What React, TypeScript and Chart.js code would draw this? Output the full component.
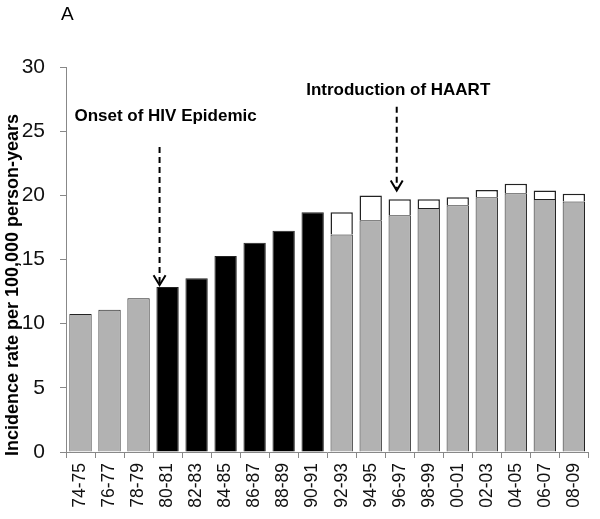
import React, { useEffect, useRef } from "react";
import { Chart, registerables } from "chart.js";

Chart.register(...registerables);

const categories = ["74-75","76-77","78-79","80-81","82-83","84-85","86-87","88-89","90-91","92-93","94-95","96-97","98-99","00-01","02-03","04-05","06-07","08-09"];
const baseValues = [10.75,11.09,11.98,12.86,13.54,15.28,16.31,17.25,18.68,16.94,18.05,18.44,19.02,19.22,19.85,20.16,19.72,19.51];
const totalValues = [null,null,null,null,null,null,null,null,null,18.68,19.98,19.69,19.69,19.85,20.42,20.91,20.37,20.13];
const hivPeriod = ["80-81","82-83","84-85","86-87","88-89","90-91"];
const yTicks = [0,5,10,15,20,25,30];
const yTitle = "Incidence rate per 100,000 person-years";
const annotations = [
  { label: "Onset of HIV Epidemic", category: "80-81", textY: 26.12, fromY: 23.77, toY: 13.0 },
  { label: "Introduction of HAART", category: "96-97", textY: 28.2, fromY: 26.9, toY: 20.37 },
];

const FONT = "'Liberation Sans', Arial, sans-serif";

export default function App() {
  const ref = useRef<HTMLCanvasElement>(null);
  useEffect(() => {
    const topValues = totalValues.map((t, i) => (t == null ? null : +(t - baseValues[i]).toFixed(2)));
    const baseColors = categories.map((c) => (hivPeriod.includes(c) ? "#000000" : "#b2b2b2"));
    const arrowDx = [-8, -3];
    const textDx = [-2, -1.5];
    const annotPlugin = {
      id: "annot",
      afterDraw(chart: any) {
        const ctx = chart.ctx;
        const xs = chart.scales.x;
        const ys = chart.scales.y;
        ctx.save();
        ctx.fillStyle = "#000";
        ctx.font = `19px ${FONT}`;
        ctx.textAlign = "left";
        ctx.textBaseline = "middle";
        ctx.fillText("A", 61, 15);
        // y title
        ctx.save();
        ctx.translate(13, 285);
        ctx.rotate(-Math.PI / 2);
        ctx.textAlign = "center";
        ctx.font = `bold 18px ${FONT}`;
        ctx.fillText(yTitle, 0, 0);
        ctx.restore();
        annotations.forEach((a, k) => {
          const cx = xs.getPixelForValue(categories.indexOf(a.category));
          const x = cx + arrowDx[k];
          ctx.font = `bold 17px ${FONT}`;
          ctx.textAlign = "center";
          ctx.fillText(a.label, cx + textDx[k], ys.getPixelForValue(a.textY));
          const y1 = ys.getPixelForValue(a.fromY);
          const y2 = ys.getPixelForValue(a.toY);
          ctx.strokeStyle = "#000";
          ctx.lineWidth = 2;
          ctx.setLineDash([6, 4]);
          ctx.beginPath();
          ctx.moveTo(x, y1);
          ctx.lineTo(x, y2 - 2);
          ctx.stroke();
          ctx.setLineDash([]);
          ctx.beginPath();
          ctx.moveTo(x - 6, y2 - 10);
          ctx.lineTo(x, y2);
          ctx.lineTo(x + 6, y2 - 10);
          ctx.stroke();
        });
        ctx.restore();
      },
    };
    const chart = new Chart(ref.current!, {
      type: "bar",
      data: {
        labels: categories,
        datasets: [
          { data: baseValues, backgroundColor: baseColors, borderColor: "#222", borderWidth: 1, barPercentage: 0.77, categoryPercentage: 1 },
          { data: topValues as any, backgroundColor: "#ffffff", borderColor: "#222", borderWidth: 1.5, barPercentage: 0.77, categoryPercentage: 1 },
        ],
      },
      options: {
        animation: false,
        responsive: false,
        layout: { padding: { top: 67, right: 6, left: 0, bottom: 0 } },
        plugins: { legend: { display: false }, tooltip: { enabled: false }, title: { display: false } },
        scales: {
          x: {
            stacked: true,
            afterFit(scale: any) { scale.height = 67; },
            grid: { display: true, offset: true, drawOnChartArea: false, color: "#888", tickLength: 6 },
            border: { color: "#888" },
            ticks: { minRotation: 90, maxRotation: 90, color: "#111", font: { family: FONT, size: 17.5 }, padding: 5 },
          },
          y: {
            stacked: true,
            min: 0,
            max: 30,
            afterFit(scale: any) { scale.width = 66; },
            afterBuildTicks(scale: any) { scale.ticks = yTicks.map((v) => ({ value: v })); },
            grid: { display: true, drawOnChartArea: false, color: "#888", tickLength: 6 },
            border: { color: "#888" },
            ticks: { color: "#111", font: { family: FONT, size: 21 }, padding: 15 },
          },
        },
      },
      plugins: [annotPlugin],
    });
    return () => chart.destroy();
  }, []);
  return (
    <div style={{ position: "fixed", left: 0, top: 0, width: 600, height: 519, background: "#fff" }}>
      <canvas ref={ref} width={600} height={519} style={{ width: 600, height: 519 }} />
    </div>
  );
}
